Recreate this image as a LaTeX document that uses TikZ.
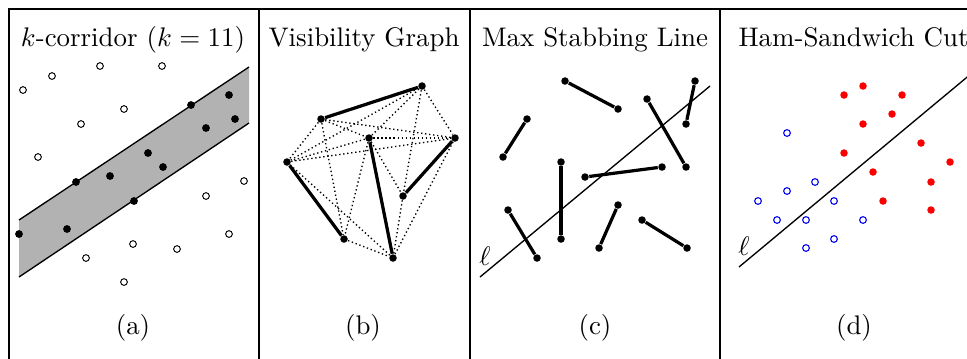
\documentclass[tikz,border=0pt]{standalone}
\usepackage{amsmath,amssymb}
\usetikzlibrary{positioning}
\definecolor{bandGray}{RGB}{178,178,178}
\definecolor{hamRed}{RGB}{250,0,0}
\definecolor{hamBlue}{RGB}{0,0,240}

\begin{document}
\begin{tikzpicture}[x=0.372pt,y=-0.372pt,
  frm/.style={line width=0.55pt},
  ttl/.style={anchor=base,inner sep=0pt},
  opt/.style={circle,draw,line width=0.35pt,fill=white,inner sep=0pt,minimum size=2.5pt},
  pt/.style={circle,fill,inner sep=0pt,minimum size=2.8pt},
  seg/.style={line width=1.2pt},
  vis/.style={densely dotted,line width=0.5pt},
  cut/.style={line width=0.5pt}]
\useasboundingbox (0,0) rectangle (967,358);
\clip (0,0) rectangle (967,358);
% frames
\draw[frm] (990,9) -- (9,9) -- (9,370);
\foreach \x in {259,470,720} \draw[frm] (\x,9) -- (\x,370);
% titles
\node[ttl] (ta) at (133,46) {$k$-corridor ($k=11$)};
\node[ttl] (tb) at (364,46) {Visibility Graph};
\node[ttl] (tc) at (595,46) {Max Stabbing Line};
\node[ttl,anchor=base west] (td) at (738,46) {Ham-Sandwich Cut};
\node[ttl] (la) at (133,334) {(a)};
\node[ttl] (lb) at (363,334) {(b)};
\node[ttl] (lc) at (595,334) {(c)};
\node[ttl] (ld) at (854,334) {(d)};

% (a) corridor
\coordinate (u1) at (19,220); \coordinate (u2) at (249,67);
\coordinate (w1) at (19,277); \coordinate (w2) at (249,123);
\fill[bandGray] (u1) -- (u2) -- (w2) -- (w1) -- cycle;
\draw[cut] (u1) -- (u2);
\draw[cut] (w1) -- (w2);
\foreach \x/\y [count=\i] in {100/66,52/76,23/90,162/66,124/109,81/124,38/157,
  244/181,206/196,229/234,133/244,177/249,86/258,124/282}
  \node[opt] (o\i) at (\x,\y) {};
\foreach \x/\y [count=\i] in {229/95,191/105,235/119,206/128,148/153,163/167,
  76/182,110/176,134/201,67/229,19/234}
  \node[pt,minimum size=2.9pt] (k\i) at (\x,\y) {};

% (b) visibility graph
\node[pt] (A) at (321,119) {};
\node[pt] (B) at (422,86) {};
\node[pt] (C) at (455,138) {};
\node[pt] (D) at (369,138) {};
\node[pt] (E) at (287,162) {};
\node[pt] (F) at (403,196) {};
\node[pt] (G) at (344,239) {};
\node[pt] (H) at (393,258) {};
\foreach \x/\y in {A/C,A/D,A/E,A/G,B/C,B/D,B/E,B/F,D/C,D/E,D/F,D/G,E/C,E/H,G/H,F/H,C/H}
  \draw[vis] (\x) -- (\y);
\foreach \x/\y in {A/B,E/G,D/H,F/C} \draw[seg] (\x) -- (\y);

% (c) stabbing line
\foreach \x/\y/\z/\w [count=\i] in {565/81/618/109,527/119/503/157,695/81/686/124,
  647/99/686/167,585/177/662/167,561/162/561/239,508/210/537/258,
  618/205/599/248,642/220/687/248}
{
  \node[pt] (s\i) at (\x,\y) {};
  \node[pt] (t\i) at (\z,\w) {};
  \draw[seg] (s\i) -- (t\i);
}
\coordinate (c1) at (480,277); \coordinate (c2) at (710,86);
\draw[cut] (c1) -- (c2);
\node (lell) at (485,256) {$\ell$};

% (d) ham-sandwich cut
\foreach \x/\y [count=\i] in {787/133,815/182,787/191,758/201,834/201,777/220,
  806/220,863/220,834/239,806/248}
  \node[opt,draw=hamBlue,line width=0.4pt] (b\i) at (\x,\y) {};
\foreach \x/\y [count=\i] in {863/86,844/95,902/95,892/114,863/124,921/143,
  844/153,950/162,873/172,931/182,883/201,931/210}
  \node[pt,fill=hamRed] (r\i) at (\x,\y) {};
\coordinate (d1) at (739,267); \coordinate (d2) at (990,58);
\draw[cut] (d1) -- (d2);
\node (dell) at (744,246) {$\ell$};
\end{tikzpicture}
\end{document}
